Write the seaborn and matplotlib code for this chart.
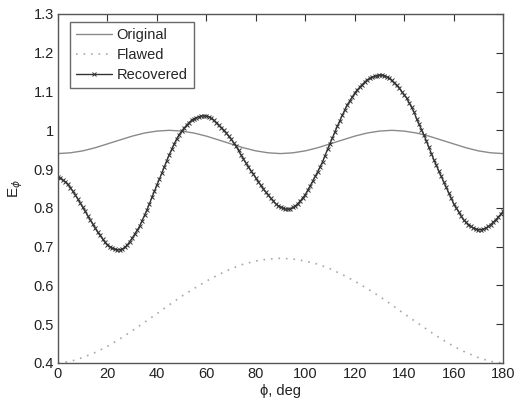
import numpy as np
import pandas as pd
import matplotlib
matplotlib.use("Agg")
import matplotlib.pyplot as plt
import seaborn as sns

# ---- data ----
phi_5 = list(range(0, 181, 5))
original = [0.940, 0.942, 0.947, 0.955, 0.965, 0.975, 0.985, 0.993, 0.998, 1.000,
            0.998, 0.993, 0.985, 0.975, 0.965, 0.955, 0.947, 0.942, 0.940,
            0.942, 0.947, 0.955, 0.965, 0.975, 0.985, 0.993, 0.998, 1.000,
            0.998, 0.993, 0.985, 0.975, 0.965, 0.955, 0.947, 0.942, 0.940]
flawed = [0.400, 0.404, 0.414, 0.427, 0.443, 0.462, 0.483, 0.505, 0.527, 0.550,
          0.572, 0.592, 0.611, 0.628, 0.643, 0.655, 0.663, 0.668, 0.670,
          0.668, 0.663, 0.655, 0.643, 0.628, 0.611, 0.592, 0.572, 0.550,
          0.527, 0.505, 0.483, 0.462, 0.443, 0.427, 0.414, 0.404, 0.400]

phi_1 = list(range(0, 181))
recovered = [
    0.880, 0.877, 0.872, 0.867, 0.861, 0.852, 0.843, 0.833, 0.823, 0.812,
    0.802, 0.791, 0.780, 0.769, 0.759, 0.748, 0.738, 0.729, 0.720, 0.711,
    0.705, 0.700, 0.696, 0.693, 0.692, 0.692, 0.694, 0.698, 0.704, 0.713,
    0.722, 0.732, 0.742, 0.753, 0.767, 0.781, 0.795, 0.811, 0.827, 0.843,
    0.859, 0.874, 0.890, 0.906, 0.922, 0.937, 0.951, 0.965, 0.978, 0.989,
    0.998, 1.006, 1.013, 1.020, 1.026, 1.030, 1.033, 1.035, 1.037, 1.037,
    1.037, 1.035, 1.031, 1.026, 1.020, 1.014, 1.007, 1.000, 0.993, 0.985,
    0.977, 0.968, 0.959, 0.948, 0.937, 0.926, 0.916, 0.906, 0.896, 0.887,
    0.877, 0.868, 0.858, 0.849, 0.841, 0.833, 0.825, 0.818, 0.811, 0.806,
    0.802, 0.799, 0.797, 0.797, 0.798, 0.801, 0.805, 0.811, 0.818, 0.826,
    0.834, 0.846, 0.857, 0.869, 0.881, 0.893, 0.906, 0.919, 0.935, 0.951,
    0.966, 0.981, 0.996, 1.011, 1.025, 1.039, 1.053, 1.066, 1.076, 1.086,
    1.096, 1.104, 1.111, 1.118, 1.124, 1.130, 1.134, 1.137, 1.139, 1.141,
    1.142, 1.142, 1.141, 1.138, 1.134, 1.129, 1.122, 1.116, 1.109, 1.100,
    1.091, 1.083, 1.071, 1.059, 1.047, 1.030, 1.016, 1.002, 0.988, 0.972,
    0.956, 0.940, 0.924, 0.910, 0.895, 0.881, 0.867, 0.853, 0.839, 0.825,
    0.811, 0.800, 0.790, 0.779, 0.769, 0.763, 0.757, 0.752, 0.748, 0.745,
    0.744, 0.744, 0.745, 0.748, 0.752, 0.757, 0.763, 0.769, 0.776, 0.783,
    0.791]

x_ticks = [0, 20, 40, 60, 80, 100, 120, 140, 160, 180]
y_ticks = [0.4, 0.5, 0.6, 0.7, 0.8, 0.9, 1.0, 1.1, 1.2, 1.3]
y_tick_labels = ["0.4", "0.5", "0.6", "0.7", "0.8", "0.9", "1", "1.1", "1.2", "1.3"]

sns.set_style("white")
plt.rcParams['font.family'] = ['Liberation Sans', 'DejaVu Sans']

fig = plt.figure(figsize=(5.16, 4.03), dpi=100)
ax = fig.add_axes([0.1124, 0.0993, 0.8626, 0.8660])

df_o = pd.DataFrame({"phi": phi_5, "E": original})
df_f = pd.DataFrame({"phi": phi_5, "E": flawed})
df_r = pd.DataFrame({"phi": phi_1, "E": recovered})

sns.lineplot(data=df_o, x="phi", y="E", ax=ax, color="#8a8a8a", linewidth=1.0,
             label="Original")
sns.lineplot(data=df_f, x="phi", y="E", ax=ax, color="#a8a8a8", linewidth=1.2,
             linestyle=(0, (1, 3.5)), label="Flawed")
sns.lineplot(data=df_r, x="phi", y="E", ax=ax, color="#333333", linewidth=1.0,
             marker="x", markersize=3.2, markeredgewidth=0.7,
             markeredgecolor="#333333", label="Recovered")

ax.set_xlim(0, 180)
ax.set_ylim(0.4, 1.3)
ax.set_xticks(x_ticks)
ax.set_xticklabels([str(t) for t in x_ticks])
ax.set_yticks(y_ticks)
ax.set_yticklabels(y_tick_labels)
ax.tick_params(direction="in", length=5, width=0.8, top=True, right=True,
               labelsize=10.5, colors="#333333", pad=3)
ax.tick_params(axis="both", labelcolor="#222222")
for s in ax.spines.values():
    s.set_color("#555555")
    s.set_linewidth(1.0)

ax.set_xlabel("ϕ, deg", fontsize=10.5, labelpad=2, color="#222222")
ax.set_ylabel(r"E$_{\phi}$", fontsize=11, labelpad=6, color="#222222")

leg = ax.legend(loc="upper left", bbox_to_anchor=(0.027, 0.977), fontsize=10.5,
                frameon=True, fancybox=False, handlelength=2.5,
                borderpad=0.4, labelspacing=0.42, handletextpad=0.3,
                borderaxespad=0)
leg.get_frame().set_edgecolor("#444444")
leg.get_frame().set_linewidth(1.0)

fig.savefig("out.png", dpi=100)
